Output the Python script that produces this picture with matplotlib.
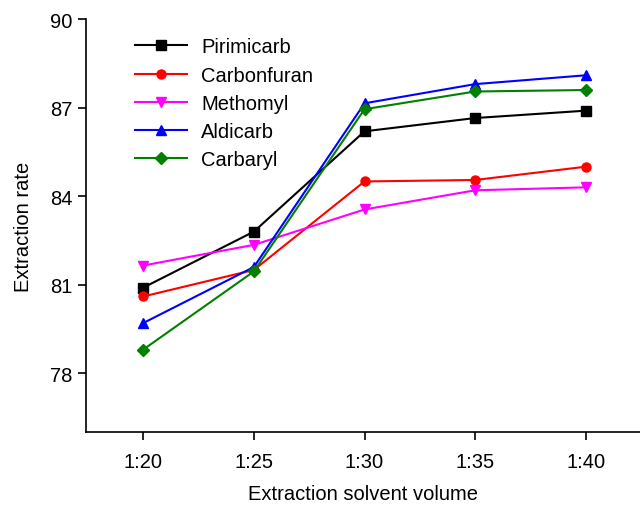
import matplotlib
matplotlib.use("Agg")
import matplotlib.pyplot as plt

plt.rcParams['font.family'] = ['Liberation Sans', 'DejaVu Sans']

# Solvent ratios and extraction rates (%) for each pesticide
ratios = ["1:20", "1:25", "1:30", "1:35", "1:40"]
pirimicarb = [80.9, 82.8, 86.2, 86.65, 86.9]
carbonfuran = [80.6, 81.5, 84.5, 84.55, 85.0]
methomyl = [81.65, 82.35, 83.55, 84.2, 84.3]
aldicarb = [79.7, 81.6, 87.15, 87.8, 88.1]
carbaryl = [78.8, 81.45, 86.95, 87.55, 87.6]

series = [
    ("Pirimicarb", pirimicarb, "black", "s"),
    ("Carbonfuran", carbonfuran, "red", "o"),
    ("Methomyl", methomyl, "magenta", "v"),
    ("Aldicarb", aldicarb, "blue", "^"),
    ("Carbaryl", carbaryl, "green", "D"),
]

fig = plt.figure(figsize=(6.4, 5.06), dpi=100)
ax = fig.add_axes([0.134, 0.144, 0.866, 0.816])

x = range(len(ratios))
for name, vals, color, marker in series:
    ms = 6 if marker == "D" else 6.5
    ax.plot(x, vals, color=color, marker=marker, markersize=ms, linewidth=1.5, label=name)

ax.set_xlim(-0.52, 4.49)
ax.set_ylim(76, 90)
ax.set_xticks(list(x))
ax.set_xticklabels(ratios)
ax.set_yticks([78, 81, 84, 87, 90])
ax.tick_params(axis='both', labelsize=14.5, length=6, width=1.2)
ax.tick_params(axis='x', pad=8)
ax.spines['top'].set_visible(False)
ax.spines['right'].set_visible(False)
ax.spines['left'].set_linewidth(1.2)
ax.spines['bottom'].set_linewidth(1.2)

ax.set_xlabel("Extraction solvent volume", fontsize=14.5, labelpad=10)
ax.set_ylabel("Extraction rate", fontsize=14.5, labelpad=12)

ax.legend(loc='upper left', bbox_to_anchor=(0.056, 1.0), frameon=False,
          fontsize=14.5, handlelength=2.6, labelspacing=0.46, handletextpad=0.7)

fig.savefig("out.png", dpi=100)
